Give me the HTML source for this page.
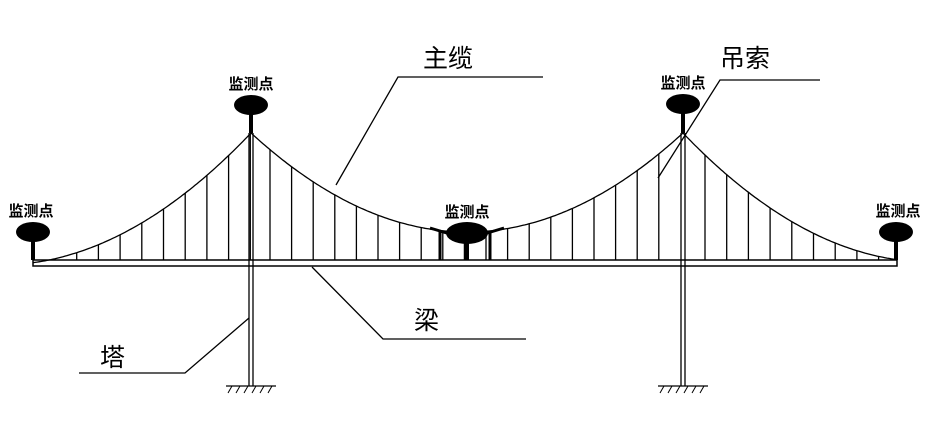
<!DOCTYPE html>
<html><head><meta charset="utf-8"><style>
html,body{margin:0;padding:0;background:#fff;width:937px;height:425px;overflow:hidden}
svg text{font-family:"Liberation Sans","Noto Sans CJK SC","WenQuanYi Zen Hei",sans-serif}
</style></head><body>
<svg id="s" width="937" height="425" viewBox="0 0 937 425" xmlns="http://www.w3.org/2000/svg">
<g stroke="#000" fill="none" stroke-width="1.3">
<rect x="33" y="260" width="864" height="6" stroke-width="1.5"/>
<line x1="249" y1="133" x2="249" y2="386"/><line x1="253" y1="133" x2="253" y2="386"/>
<line x1="681" y1="133" x2="681" y2="386"/><line x1="685" y1="133" x2="685" y2="386"/>
<line x1="226" y1="386" x2="276" y2="386"/><line x1="658" y1="386" x2="708" y2="386"/>
<g id="cab"></g>
<polyline points="336,185 398,77 543,77"/>
<polyline points="658,178 720,80 820,80"/>
<polyline points="312,267 383,339 526,339"/>
<polyline points="79,373 185,373 249,318"/>
<g stroke-width="3">
<line x1="440" y1="232" x2="440" y2="260"/><line x1="490" y1="232" x2="490" y2="260"/>
<polyline points="430,228 450,234"/><polyline points="484,234 504,228"/>
</g>
</g>
<g id="hatch" stroke="#000" stroke-width="1"></g>
<g fill="#000">
<ellipse cx="33" cy="232" rx="17" ry="10"/><rect x="31" y="232" width="4" height="28"/>
<ellipse cx="251" cy="105" rx="17" ry="10"/><rect x="249" y="105" width="4" height="28"/>
<ellipse cx="467" cy="233" rx="21" ry="11"/><rect x="465" y="233" width="4" height="27"/>
<ellipse cx="683" cy="104" rx="17" ry="10"/><rect x="681" y="104" width="4" height="29"/>
<ellipse cx="896" cy="232" rx="17" ry="10"/><rect x="894" y="232" width="4" height="28"/>
</g>
<g font-size="15" font-weight="bold" text-anchor="middle" fill="#000">
<text x="251" y="89">监测点</text>
<text x="683" y="88">监测点</text>
<text x="31" y="216">监测点</text>
<text x="467" y="217">监测点</text>
<text x="898" y="216">监测点</text>
</g>
<g font-size="25" fill="#000">
<text x="423" y="67">主缆</text>
<text x="720" y="67">吊索</text>
<text x="414" y="329">梁</text>
<text x="100" y="366">塔</text>
</g>
</svg>
<script>
var ns="http://www.w3.org/2000/svg",g=document.getElementById("cab");
function cy(x){
 if(x<=251) return 265-0.002095*x*x;
 if(x<=683){var d=x-467;return 232-(d*d)*(99/(216*216));}
 var d2=930-x;return 262-0.002114*d2*d2;
}
var pts=[];for(var x=33;x<=897;x+=2)pts.push(x+","+cy(x).toFixed(1));
pts.push("897,"+cy(897).toFixed(1));
var p=document.createElementNS(ns,"polyline");p.setAttribute("points",pts.join(" "));g.appendChild(p);
var hs=[];
for(var x=55;x<251;x+=21.7)hs.push(x);
for(var x=270;x<675;x+=21.6)hs.push(x);
for(var x=705;x<890;x+=21.7)hs.push(x);
hs.forEach(function(x){var l=document.createElementNS(ns,"line");l.setAttribute("x1",x);l.setAttribute("x2",x);l.setAttribute("y1",cy(x));l.setAttribute("y2",260);g.appendChild(l);});
var h=document.getElementById("hatch");
[226,658].forEach(function(x0){for(var i=0;i<6;i++){var l=document.createElementNS(ns,"line");var x=x0+6+i*8;l.setAttribute("x1",x);l.setAttribute("y1",386);l.setAttribute("x2",x-4);l.setAttribute("y2",393);h.appendChild(l);}});
</script>
</body></html>
